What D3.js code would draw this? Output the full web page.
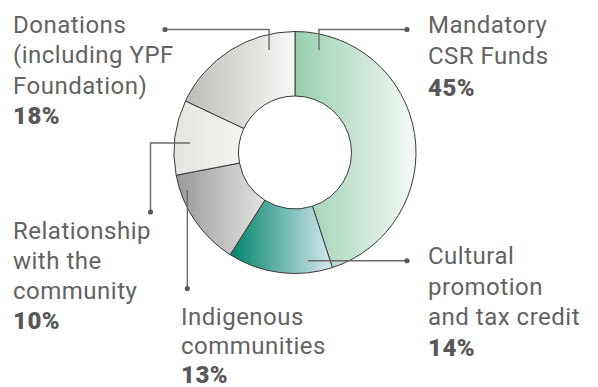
<!DOCTYPE html>
<html>
<head>
<meta charset="utf-8">
<script src="https://cdn.jsdelivr.net/npm/d3@7"></script>
<style>
  html, body { margin: 0; padding: 0; background: #fff; }
  svg { display: block; }
  text { font-family: "Roboto", "DejaVu Sans", sans-serif; }
</style>
</head>
<body>
<svg id="chart" width="598" height="387"></svg>
<script>
// ---- data ----
const categories = [
  "Mandatory CSR Funds",
  "Cultural promotion and tax credit",
  "Indigenous communities",
  "Relationship with the community",
  "Donations (including YPF Foundation)"
];
const values = [45, 14, 13, 10, 18];
const labelLines = [
  ["Mandatory", "CSR Funds"],
  ["Cultural", "promotion", "and tax credit"],
  ["Indigenous", "communities"],
  ["Relationship", "with the", "community"],
  ["Donations", "(including YPF", "Foundation)"]
];

// ---- styles / layout ----
const gradStops = [
  ["#97cfb0", "#f6f9f6"],
  ["#00856a", "#d6e8ee"],
  ["#999997", "#e3e3e1"],
  ["#e4e4e0", "#f4f4f1"],
  ["#bcbcb8", "#f8f8f6"]
];
// anchor: angle (deg, clockwise from top) & radius; route: list of orthogonal moves; label: x, first baseline
const layout = [
  { aDeg: 13.2, r: 105, route: [["y", 29.5], ["x", 407]], lx: 428, ly: 32.5, lh: 31.5 },
  { aDeg: 173.2, r: 109, route: [["x", 407]], lx: 428, ly: 264, lh: 30.5 },
  { aDeg: 250.8, r: 114, route: [["y", 288.5]], lx: 181, ly: 325, lh: 29 },
  { aDeg: 275.2, r: 105.4, route: [["x", 150.5], ["y", 212]], lx: 13, ly: 238.5, lh: 30 },
  { aDeg: -14.2, r: 105.7, route: [["y", 29.5], ["x", 165]], lx: 13, ly: 32.5, lh: 30.5 }
];

const cx = 295, cy = 152.5, outerR = 121, innerR = 56.5;
const svg = d3.select("#chart");
const defs = svg.append("defs");

gradStops.forEach((s, i) => {
  const g = defs.append("linearGradient")
    .attr("id", "g" + i)
    .attr("x1", 0).attr("y1", 0).attr("x2", 1).attr("y2", 0);
  g.append("stop").attr("offset", 0).attr("stop-color", s[0]);
  g.append("stop").attr("offset", 1).attr("stop-color", s[1]);
});

const pie = d3.pie().sort(null).value(d => d)(values);
const arc = d3.arc().innerRadius(innerR).outerRadius(outerR);

const g = svg.append("g").attr("transform", `translate(${cx},${cy})`);
g.selectAll("path.slice").data(pie).join("path")
  .attr("class", "slice")
  .attr("d", arc)
  .attr("fill", (d, i) => `url(#g${i})`)
  .attr("stroke", "#3a3a3a")
  .attr("stroke-width", 1);

// leader lines
const lineColor = "#6b6b6b";
layout.forEach((L, i) => {
  const a = L.aDeg * Math.PI / 180;
  let x = cx + L.r * Math.sin(a), y = cy - L.r * Math.cos(a);
  const pts = [[x, y]];
  L.route.forEach(([axis, v]) => {
    if (axis === "x") x = v; else y = v;
    pts.push([x, y]);
  });
  svg.append("path")
    .attr("d", d3.line()(pts))
    .attr("fill", "none")
    .attr("stroke", lineColor)
    .attr("stroke-width", 1.4);
  svg.append("circle")
    .attr("cx", x).attr("cy", y).attr("r", 2.6)
    .attr("fill", "#5a5a5a");

  const t = svg.append("text")
    .attr("x", L.lx).attr("y", L.ly)
    .attr("font-size", 24)
    .attr("letter-spacing", 0.5)
    .attr("fill", "#636363");
  labelLines[i].forEach((ln, j) => {
    t.append("tspan").attr("x", L.lx).attr("y", L.ly + j * L.lh).text(ln);
  });
  t.append("tspan").attr("x", L.lx).attr("y", L.ly + labelLines[i].length * L.lh)
    .attr("font-weight", 900).attr("fill", "#58585a")
    .text(values[i] + "%");
});
</script>
</body>
</html>
